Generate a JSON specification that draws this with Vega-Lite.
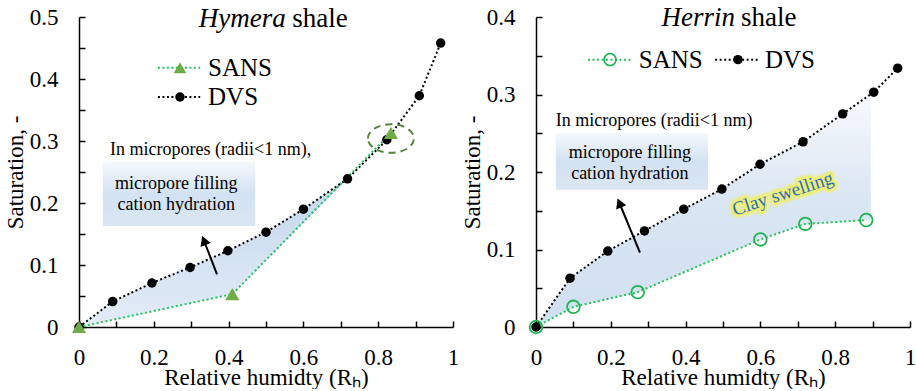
{
  "$schema": "https://vega.github.io/schema/vega-lite/v6.json",
  "padding": {"left": 4, "top": 3, "right": 0, "bottom": 0},
  "bounds": "flush",
  "spacing": 83,
  "config": {
    "view": {"stroke": null},
    "font": "'Liberation Serif', 'Times New Roman', serif",
    "axis": {
      "grid": false, "domainColor": "#000", "domainWidth": 1.5,
      "tickColor": "#000", "tickWidth": 1.5, "tickSize": -6,
      "labelFont": "'Liberation Serif', 'Times New Roman', serif", "labelFontSize": 23, "labelColor": "#000",
      "titleFont": "'Liberation Serif', 'Times New Roman', serif", "titleFontSize": 23, "titleFontWeight": "normal", "titleColor": "#000",
      "labelFlush": false, "labelOverlap": false
    },
    "axisX": {"labelPadding": 25, "titlePadding": -3},
    "axisY": {"labelPadding": 27, "titlePadding": 2},
    "text": {"font": "'Liberation Serif', 'Times New Roman', serif", "color": "#000"}
  },
  "datasets": {
    "hymera": [
      {"series": "DVS", "Rh": 0, "S": 0},
      {"series": "DVS", "Rh": 0.09, "S": 0.041},
      {"series": "DVS", "Rh": 0.195, "S": 0.071},
      {"series": "DVS", "Rh": 0.297, "S": 0.096},
      {"series": "DVS", "Rh": 0.398, "S": 0.123},
      {"series": "DVS", "Rh": 0.5, "S": 0.153},
      {"series": "DVS", "Rh": 0.6, "S": 0.19},
      {"series": "DVS", "Rh": 0.718, "S": 0.239},
      {"series": "DVS", "Rh": 0.823, "S": 0.302},
      {"series": "DVS", "Rh": 0.91, "S": 0.373},
      {"series": "DVS", "Rh": 0.967, "S": 0.458},
      {"series": "SANS", "Rh": 0, "S": 0},
      {"series": "SANS", "Rh": 0.41, "S": 0.053},
      {"series": "SANS", "Rh": 0.834, "S": 0.313}
    ],
    "hymeraFill": [
      {"i": 1, "Rh": 0, "S": 0},
      {"i": 2, "Rh": 0.09, "S": 0.041},
      {"i": 3, "Rh": 0.195, "S": 0.071},
      {"i": 4, "Rh": 0.297, "S": 0.096},
      {"i": 5, "Rh": 0.398, "S": 0.123},
      {"i": 6, "Rh": 0.5, "S": 0.153},
      {"i": 7, "Rh": 0.6, "S": 0.19},
      {"i": 8, "Rh": 0.718, "S": 0.239},
      {"i": 9, "Rh": 0.41, "S": 0.053},
      {"i": 10, "Rh": 0, "S": 0}
    ],
    "herrin": [
      {"series": "DVS", "Rh": 0, "S": 0},
      {"series": "DVS", "Rh": 0.091, "S": 0.063},
      {"series": "DVS", "Rh": 0.192, "S": 0.098},
      {"series": "DVS", "Rh": 0.29, "S": 0.124},
      {"series": "DVS", "Rh": 0.395, "S": 0.152},
      {"series": "DVS", "Rh": 0.497, "S": 0.178},
      {"series": "DVS", "Rh": 0.599, "S": 0.21},
      {"series": "DVS", "Rh": 0.714, "S": 0.239},
      {"series": "DVS", "Rh": 0.82, "S": 0.275},
      {"series": "DVS", "Rh": 0.903, "S": 0.303},
      {"series": "DVS", "Rh": 0.967, "S": 0.334},
      {"series": "SANS", "Rh": 0, "S": 0},
      {"series": "SANS", "Rh": 0.1, "S": 0.026},
      {"series": "SANS", "Rh": 0.272, "S": 0.045},
      {"series": "SANS", "Rh": 0.6, "S": 0.113},
      {"series": "SANS", "Rh": 0.72, "S": 0.133},
      {"series": "SANS", "Rh": 0.883, "S": 0.138}
    ],
    "herrinFill": [
      {"i": 1, "Rh": 0, "S": 0},
      {"i": 2, "Rh": 0.091, "S": 0.063},
      {"i": 3, "Rh": 0.192, "S": 0.098},
      {"i": 4, "Rh": 0.29, "S": 0.124},
      {"i": 5, "Rh": 0.395, "S": 0.152},
      {"i": 6, "Rh": 0.497, "S": 0.178},
      {"i": 7, "Rh": 0.599, "S": 0.21},
      {"i": 8, "Rh": 0.714, "S": 0.239},
      {"i": 9, "Rh": 0.82, "S": 0.275},
      {"i": 10, "Rh": 0.895, "S": 0.3},
      {"i": 11, "Rh": 0.895, "S": 0.138},
      {"i": 12, "Rh": 0.72, "S": 0.133},
      {"i": 13, "Rh": 0.6, "S": 0.113},
      {"i": 14, "Rh": 0.272, "S": 0.045},
      {"i": 15, "Rh": 0.1, "S": 0.026},
      {"i": 16, "Rh": 0, "S": 0}
    ],
    "hymeraBox": [{"Rh": 0.064, "Rh2": 0.471, "S": 0.266, "S2": 0.163}],
    "herrinBox": [{"Rh": 0.053, "Rh2": 0.46, "S": 0.25, "S2": 0.177}],
    "hymeraArrow": [{"Rh": 0.369, "S": 0.085, "Rh2": 0.334, "S2": 0.1395}],
    "herrinArrow": [{"Rh": 0.278, "S": 0.096, "Rh2": 0.223, "S2": 0.16}],
    "hymeraCircle": [{"Rh": 0.834, "S": 0.304}],
    "hymeraLegend": [
      {"series": "SANS", "Rh": 0.211, "Rh2": 0.324, "Rm": 0.27, "Rt": 0.345, "S": 0.418},
      {"series": "DVS", "Rh": 0.211, "Rh2": 0.324, "Rm": 0.27, "Rt": 0.345, "S": 0.371}
    ],
    "herrinLegend": [
      {"series": "SANS", "Rh": 0.139, "Rh2": 0.254, "Rm": 0.198, "Rt": 0.275, "S": 0.345},
      {"series": "DVS", "Rh": 0.479, "Rh2": 0.594, "Rm": 0.54, "Rt": 0.612, "S": 0.345}
    ],
    "hymeraTitle": [{"Rh": 0.553, "Rh2": 0.57, "S": 0.484, "t1": "Hymera", "t2": "shale"}],
    "herrinTitle": [{"Rh": 0.532, "Rh2": 0.548, "S": 0.389, "t1": "Herrin", "t2": "shale"}],
    "hymeraNote": [{"Rh": 0.083, "S": 0.285, "text": "In micropores (radii<1 nm),"}],
    "herrinNote": [{"Rh": 0.053, "S": 0.266, "text": "In micropores (radii<1 nm)"}],
    "hymeraBoxText": [
      {"Rh": 0.26, "S": 0.231, "text": "micropore filling"},
      {"Rh": 0.26, "S": 0.197, "text": "cation hydration"}
    ],
    "herrinBoxText": [
      {"Rh": 0.251, "S": 0.225, "text": "micropore filling"},
      {"Rh": 0.251, "S": 0.198, "text": "cation hydration"}
    ],
    "clay": [{"Rh": 0.66, "S": 0.172, "text": "Clay swelling"}]
  },
  "hconcat": [
    {
      "width": 374,
      "height": 310,
      "encoding": {
        "x": {"field": "Rh", "type": "quantitative", "scale": {"domain": [0, 1]},
          "axis": {"title": "Relative humidty (Rₕ)", "values": [0, 0.1, 0.2, 0.3, 0.4, 0.5, 0.6, 0.7, 0.8, 0.9, 1],
            "labelExpr": "round(datum.value*10)%2==0 ? format(datum.value,'~g') : ''"}},
        "y": {"field": "S", "type": "quantitative", "scale": {"domain": [0, 0.5]},
          "axis": {"title": "Saturation, -", "values": [0, 0.05, 0.1, 0.15, 0.2, 0.25, 0.3, 0.35, 0.4, 0.45, 0.5],
            "labelExpr": "round(datum.value*20)%2==0 ? format(datum.value,'~g') : ''"}}
      },
      "layer": [
        {
          "data": {"name": "hymeraFill"},
          "mark": {"type": "line", "stroke": "transparent", "strokeWidth": 0,
            "fill": {"gradient": "linear", "x1": 0, "y1": 0, "x2": 0, "y2": 1,
              "stops": [{"offset": 0, "color": "#c3d7ed"}, {"offset": 1, "color": "#e3ecf7"}]}},
          "encoding": {"order": {"field": "i"}}
        },
        {
          "data": {"name": "hymeraBox"},
          "mark": {"type": "rect",
            "fill": {"gradient": "linear", "x1": 0, "y1": 0, "x2": 0, "y2": 1,
              "stops": [{"offset": 0, "color": "#f4f8fc"}, {"offset": 0.5, "color": "#d3e2f2"}, {"offset": 1, "color": "#dae6f3"}]}},
          "encoding": {"x2": {"field": "Rh2"}, "y2": {"field": "S2"}}
        },
        {
          "data": {"name": "hymeraBoxText"},
          "mark": {"type": "text", "fontSize": 18, "align": "center", "baseline": "middle"},
          "encoding": {"text": {"field": "text"}}
        },
        {
          "data": {"name": "hymeraNote"},
          "mark": {"type": "text", "fontSize": 18, "align": "left", "baseline": "middle"},
          "encoding": {"text": {"field": "text"}}
        },
        {
          "data": {"name": "hymeraArrow"},
          "mark": {"type": "rule", "stroke": "#000", "strokeWidth": 2},
          "encoding": {"x2": {"field": "Rh2"}, "y2": {"field": "S2"}}
        },
        {
          "data": {"name": "hymeraArrow"},
          "mark": {"type": "point", "shape": "triangle-up", "filled": true, "color": "#000", "size": 120, "angle": 338.5, "opacity": 1},
          "encoding": {"x": {"field": "Rh2", "type": "quantitative"}, "y": {"field": "S2", "type": "quantitative"}}
        },
        {
          "data": {"name": "hymera"},
          "transform": [{"filter": "datum.series == 'DVS'"}],
          "mark": {"type": "line", "stroke": "#000", "strokeWidth": 2, "strokeDash": [2, 2.5]},
          "encoding": {}
        },
        {
          "data": {"name": "hymera"},
          "transform": [{"filter": "datum.series == 'SANS'"}],
          "mark": {"type": "line", "stroke": "#22c45a", "strokeWidth": 2, "strokeDash": [2, 2.5]},
          "encoding": {}
        },
        {
          "data": {"name": "hymera"},
          "transform": [{"filter": "datum.series == 'DVS'"}],
          "mark": {"type": "point", "shape": "circle", "filled": true, "color": "#000", "size": 90, "opacity": 1},
          "encoding": {}
        },
        {
          "data": {"name": "hymera"},
          "transform": [{"filter": "datum.series == 'SANS'"}],
          "mark": {"type": "point", "shape": "triangle-up", "filled": true, "color": "#6fac46", "size": 200, "opacity": 1},
          "encoding": {}
        },
        {
          "data": {"name": "hymeraCircle"},
          "mark": {"type": "point", "shape": "M-1,0A1,0.62,0,1,1,1,0A1,0.62,0,1,1,-1,0Z", "filled": false, "stroke": "#56843c", "strokeWidth": 2, "strokeDash": [7, 5], "size": 2116, "opacity": 1},
          "encoding": {}
        },
        {
          "data": {"name": "hymeraLegend"},
          "mark": {"type": "rule", "strokeWidth": 2, "strokeDash": [2, 2.5]},
          "encoding": {"x2": {"field": "Rh2"},
            "stroke": {"field": "series", "type": "nominal", "scale": {"domain": ["SANS", "DVS"], "range": ["#22c45a", "#000000"]}, "legend": null}}
        },
        {
          "data": {"name": "hymeraLegend"},
          "transform": [{"filter": "datum.series == 'SANS'"}],
          "mark": {"type": "point", "shape": "triangle-up", "filled": true, "color": "#6fac46", "size": 160, "opacity": 1},
          "encoding": {"x": {"field": "Rm", "type": "quantitative"}}
        },
        {
          "data": {"name": "hymeraLegend"},
          "transform": [{"filter": "datum.series == 'DVS'"}],
          "mark": {"type": "point", "shape": "circle", "filled": true, "color": "#000", "size": 90, "opacity": 1},
          "encoding": {"x": {"field": "Rm", "type": "quantitative"}}
        },
        {
          "data": {"name": "hymeraLegend"},
          "mark": {"type": "text", "fontSize": 25, "align": "left", "baseline": "middle"},
          "encoding": {"x": {"field": "Rt", "type": "quantitative"}, "text": {"field": "series"}}
        },
        {
          "data": {"name": "hymeraTitle"},
          "mark": {"type": "text", "fontSize": 27, "fontStyle": "italic", "align": "right", "baseline": "alphabetic"},
          "encoding": {"text": {"field": "t1"}}
        },
        {
          "data": {"name": "hymeraTitle"},
          "mark": {"type": "text", "fontSize": 27, "align": "left", "baseline": "alphabetic"},
          "encoding": {"x": {"field": "Rh2", "type": "quantitative"}, "text": {"field": "t2"}}
        }
      ]
    },
    {
      "width": 374,
      "height": 310,
      "encoding": {
        "x": {"field": "Rh", "type": "quantitative", "scale": {"domain": [0, 1]},
          "axis": {"title": "Relative humidty (Rₕ)", "values": [0, 0.1, 0.2, 0.3, 0.4, 0.5, 0.6, 0.7, 0.8, 0.9, 1],
            "labelExpr": "round(datum.value*10)%2==0 ? format(datum.value,'~g') : ''"}},
        "y": {"field": "S", "type": "quantitative", "scale": {"domain": [0, 0.4]},
          "axis": {"title": "Saturation, -", "values": [0, 0.05, 0.1, 0.15, 0.2, 0.25, 0.3, 0.35, 0.4],
            "labelExpr": "round(datum.value*20)%2==0 ? format(datum.value,'~g') : ''"}}
      },
      "layer": [
        {
          "data": {"name": "herrinFill"},
          "mark": {"type": "line", "stroke": "transparent", "strokeWidth": 0,
            "fill": {"gradient": "linear", "x1": 0, "y1": 0, "x2": 0, "y2": 1,
              "stops": [{"offset": 0, "color": "#f7f9fc"}, {"offset": 0.45, "color": "#dae6f3"}, {"offset": 1, "color": "#d0dff0"}]}},
          "encoding": {"order": {"field": "i"}}
        },
        {
          "data": {"name": "herrinBox"},
          "mark": {"type": "rect",
            "fill": {"gradient": "linear", "x1": 0, "y1": 0, "x2": 0, "y2": 1,
              "stops": [{"offset": 0, "color": "#f4f8fc"}, {"offset": 0.5, "color": "#d3e2f2"}, {"offset": 1, "color": "#dae6f3"}]}},
          "encoding": {"x2": {"field": "Rh2"}, "y2": {"field": "S2"}}
        },
        {
          "data": {"name": "herrinBoxText"},
          "mark": {"type": "text", "fontSize": 18, "align": "center", "baseline": "middle"},
          "encoding": {"text": {"field": "text"}}
        },
        {
          "data": {"name": "herrinNote"},
          "mark": {"type": "text", "fontSize": 18, "align": "left", "baseline": "middle"},
          "encoding": {"text": {"field": "text"}}
        },
        {
          "data": {"name": "clay"},
          "mark": {"type": "text", "fontSize": 19, "align": "center", "baseline": "middle", "angle": 342, "color": "#eeee88", "stroke": "#eeee88", "strokeWidth": 9, "strokeOpacity": 0.5, "strokeJoin": "round"},
          "encoding": {"text": {"field": "text"}}
        },
        {
          "data": {"name": "clay"},
          "mark": {"type": "text", "fontSize": 19, "align": "center", "baseline": "middle", "angle": 342, "color": "#eded78", "stroke": "#eded78", "strokeWidth": 5, "strokeJoin": "round"},
          "encoding": {"text": {"field": "text"}}
        },
        {
          "data": {"name": "clay"},
          "mark": {"type": "text", "fontSize": 19, "align": "center", "baseline": "middle", "angle": 342, "color": "#2b70b8"},
          "encoding": {"text": {"field": "text"}}
        },
        {
          "data": {"name": "herrinArrow"},
          "mark": {"type": "rule", "stroke": "#000", "strokeWidth": 2},
          "encoding": {"x2": {"field": "Rh2"}, "y2": {"field": "S2"}}
        },
        {
          "data": {"name": "herrinArrow"},
          "mark": {"type": "point", "shape": "triangle-up", "filled": true, "color": "#000", "size": 120, "angle": 337.5, "opacity": 1},
          "encoding": {"x": {"field": "Rh2", "type": "quantitative"}, "y": {"field": "S2", "type": "quantitative"}}
        },
        {
          "data": {"name": "herrin"},
          "transform": [{"filter": "datum.series == 'DVS'"}],
          "mark": {"type": "line", "stroke": "#000", "strokeWidth": 2, "strokeDash": [2, 2.5]},
          "encoding": {}
        },
        {
          "data": {"name": "herrin"},
          "transform": [{"filter": "datum.series == 'SANS'"}],
          "mark": {"type": "line", "stroke": "#22c45a", "strokeWidth": 2, "strokeDash": [2, 2.5]},
          "encoding": {}
        },
        {
          "data": {"name": "herrin"},
          "transform": [{"filter": "datum.series == 'DVS'"}],
          "mark": {"type": "point", "shape": "circle", "filled": true, "color": "#000", "size": 90, "opacity": 1},
          "encoding": {}
        },
        {
          "data": {"name": "herrin"},
          "transform": [{"filter": "datum.series == 'SANS'"}],
          "mark": {"type": "point", "shape": "circle", "filled": false, "stroke": "#1fb552", "strokeWidth": 1.8, "size": 160, "opacity": 1},
          "encoding": {}
        },
        {
          "data": {"name": "herrinLegend"},
          "mark": {"type": "rule", "strokeWidth": 2, "strokeDash": [2, 2.5]},
          "encoding": {"x2": {"field": "Rh2"},
            "stroke": {"field": "series", "type": "nominal", "scale": {"domain": ["SANS", "DVS"], "range": ["#22c45a", "#000000"]}, "legend": null}}
        },
        {
          "data": {"name": "herrinLegend"},
          "transform": [{"filter": "datum.series == 'SANS'"}],
          "mark": {"type": "point", "shape": "circle", "filled": false, "stroke": "#1fb552", "strokeWidth": 1.8, "size": 140, "opacity": 1},
          "encoding": {"x": {"field": "Rm", "type": "quantitative"}}
        },
        {
          "data": {"name": "herrinLegend"},
          "transform": [{"filter": "datum.series == 'DVS'"}],
          "mark": {"type": "point", "shape": "circle", "filled": true, "color": "#000", "size": 90, "opacity": 1},
          "encoding": {"x": {"field": "Rm", "type": "quantitative"}}
        },
        {
          "data": {"name": "herrinLegend"},
          "mark": {"type": "text", "fontSize": 25, "align": "left", "baseline": "middle"},
          "encoding": {"x": {"field": "Rt", "type": "quantitative"}, "text": {"field": "series"}}
        },
        {
          "data": {"name": "herrinTitle"},
          "mark": {"type": "text", "fontSize": 27, "fontStyle": "italic", "align": "right", "baseline": "alphabetic"},
          "encoding": {"text": {"field": "t1"}}
        },
        {
          "data": {"name": "herrinTitle"},
          "mark": {"type": "text", "fontSize": 27, "align": "left", "baseline": "alphabetic"},
          "encoding": {"x": {"field": "Rh2", "type": "quantitative"}, "text": {"field": "t2"}}
        }
      ]
    }
  ]
}
